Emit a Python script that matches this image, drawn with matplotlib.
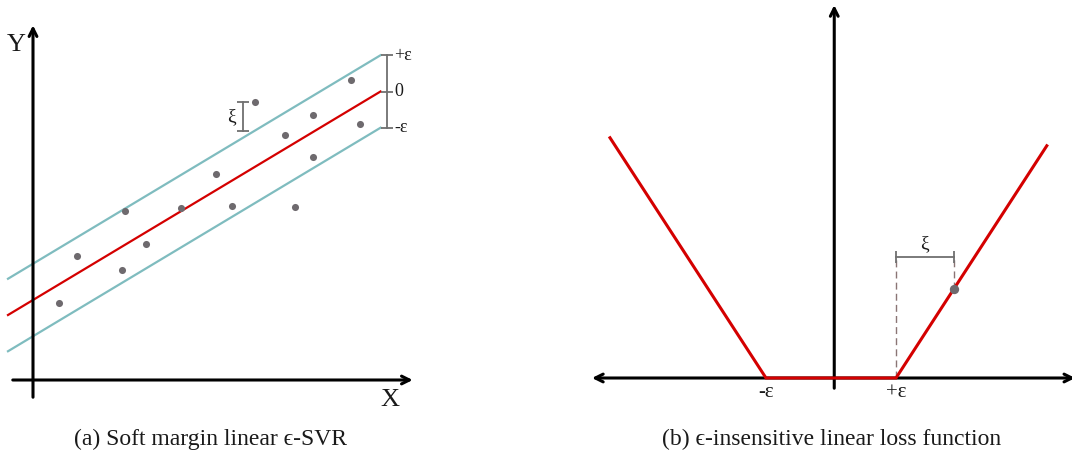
import matplotlib
matplotlib.use("Agg")
import matplotlib.pyplot as plt
import numpy as np

plt.rcParams['font.family'] = ['Liberation Serif', 'DejaVu Serif']

# ---- panel (a): soft margin linear eps-SVR ----
pts_x = [1.04, 1.76, 3.56, 3.68, 4.52, 5.92, 7.32, 7.96, 8.88, 10.08, 10.48, 11.2, 11.2, 12.72, 13.08]
pts_y = [3.08, 4.96, 4.40, 6.76, 5.44, 6.88, 8.24, 6.96, 11.12, 9.80, 6.92, 10.6, 8.92, 12.0, 10.24]
slope = 0.6
intercept = 3.2
eps_a = 1.45
line_x = [-1.0, 13.9]
outlier_idx = 8          # point whose slack is marked with xi
xi_bracket_x = 8.4
band_labels = ['+ε', '0', '-ε']

# ---- panel (b): eps-insensitive linear loss ----
eps_b = 1.0
loss_slope = 1.54
loss_x = [-3.4, -eps_b, eps_b, 3.32]
sample_x = 1.89
xi_level = 1.86
tick_labels_b = ['-ε', '+ε']

captions = ['(a) Soft margin linear ϵ-SVR', '(b) ϵ-insensitive linear loss function']

RED = '#d40000'
CYAN = '#7fbcbf'
GRAY = '#6e6a6e'
BRK = '#707070'
TXT = '#1a1a1a'

fig = plt.figure(figsize=(10.72, 4.57), dpi=100)

# Panel (a)
ax = fig.add_axes([0, 0, 0.5, 1])
ax.set_xlim(-33 / 25, (536 - 33) / 25)
ax.set_ylim((380 - 457) / 25, 380 / 25)
ax.axis('off')

arrow_kw = dict(arrowstyle='->', lw=2.2, color='black', mutation_scale=14)
ax.annotate('', xy=(0, 14.3), xytext=(0, -0.8), annotation_clip=False, arrowprops=arrow_kw)
ax.annotate('', xy=(15.3, 0), xytext=(-0.92, 0), annotation_clip=False, arrowprops=arrow_kw)

lx = np.array(line_x)
ly = slope * lx + intercept
ax.plot(lx, ly + eps_a, color=CYAN, lw=1.6)
ax.plot(lx, ly - eps_a, color=CYAN, lw=1.6)
ax.plot(lx, ly, color=RED, lw=1.6)
ax.scatter(pts_x, pts_y, s=26, color=GRAY, zorder=5, linewidths=0)

# band width bracket at right end
bx = 14.16
yc = slope * line_x[1] + intercept
levels = [yc + eps_a, yc, yc - eps_a]
ax.plot([bx, bx], [levels[2], levels[0]], color=BRK, lw=1.3)
ax.plot([bx] * 3, levels, ls='none', marker='_', markersize=9, mew=1.3, color=BRK)
for lab, lv in zip(band_labels, levels):
    ax.text(bx + 0.3, lv, lab, fontsize=13, va='center', ha='left', color=TXT)

# slack of the outlying point
ox, oy = pts_x[outlier_idx], pts_y[outlier_idx]
band_top = slope * ox + intercept + eps_a
ax.plot([xi_bracket_x] * 2, [band_top, oy], color=BRK, lw=1.3,
        marker='_', markersize=9, mew=1.3)
ax.text(xi_bracket_x - 0.3, (band_top + oy) / 2, 'ξ', fontsize=14,
        ha='right', va='center', color=TXT)

ax.text(-0.65, 13.4, 'Y', fontsize=19, ha='center', va='center', color=TXT)
ax.text(14.28, -0.8, 'X', fontsize=19, ha='center', va='center', color=TXT)

# Panel (b)
bx_ax = fig.add_axes([0.5, 0, 0.5, 1])
bx_ax.set_xlim(-295 / 65, 241 / 65)
bx_ax.set_ylim((378 - 457) / 65, 378 / 65)
bx_ax.axis('off')

bx_ax.annotate('', xy=(0.05, 5.78), xytext=(0.05, -0.2), annotation_clip=False,
               arrowprops=arrow_kw)
bx_ax.annotate('', xy=(3.8, 0), xytext=(-3.72, 0), annotation_clip=False,
               arrowprops=dict(arrow_kw, arrowstyle='<->'))

lxb = np.array(loss_x)
lyb = loss_slope * np.maximum(np.abs(lxb) - eps_b, 0)
bx_ax.plot(lxb, lyb, color=RED, lw=2.2, zorder=4, solid_joinstyle='miter')

sy = loss_slope * (sample_x - eps_b)
bx_ax.plot([eps_b, eps_b], [0, xi_level], color='#8a7575', lw=1.0, ls=(0, (5, 3)))
bx_ax.plot([sample_x, sample_x], [sy, xi_level], color='#8a7575', lw=1.0, ls=(0, (5, 3)))
bx_ax.plot([eps_b, sample_x], [xi_level, xi_level], color=BRK, lw=1.3,
           marker='|', markersize=9, mew=1.3)
bx_ax.scatter([sample_x], [sy], s=45, color=GRAY, zorder=6, linewidths=0)
bx_ax.text((eps_b + sample_x) / 2, xi_level + 0.08, 'ξ', fontsize=14,
           ha='center', va='bottom', color=TXT)

for lab, xv in zip(tick_labels_b, [-eps_b, eps_b]):
    bx_ax.text(xv, -0.08, lab, fontsize=15, ha='center', va='top', color=TXT)

fig.text(211 / 1072, 1 - 439 / 457, captions[0], fontsize=17, ha='center', va='center', color=TXT)
fig.text(832 / 1072, 1 - 439 / 457, captions[1], fontsize=17, ha='center', va='center', color=TXT)

fig.savefig('out.png', dpi=100, facecolor='white')
